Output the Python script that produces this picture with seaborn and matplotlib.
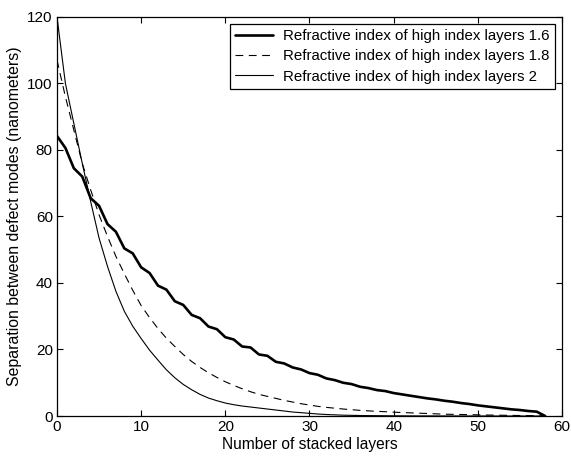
import numpy as np
import pandas as pd
import matplotlib
matplotlib.use("Agg")
import matplotlib.pyplot as plt
import seaborn as sns

# ---- data ----
layers_a = list(range(0, 59))
n16 = [84.2, 80.6, 74.5, 72.0, 65.5, 63.2, 57.7, 55.4, 50.4, 48.9,
       44.7, 43.0, 39.2, 38.0, 34.5, 33.4, 30.4, 29.4, 26.9, 26.1,
       23.7, 23.0, 20.9, 20.6, 18.5, 18.1, 16.3, 15.8, 14.6, 14.0,
       12.9, 12.4, 11.3, 10.8, 10.0, 9.6, 8.8, 8.4, 7.8, 7.5,
       6.9, 6.5, 6.1, 5.7, 5.3, 5.0, 4.6, 4.3, 3.9, 3.6,
       3.2, 2.9, 2.6, 2.3, 2.0, 1.8, 1.5, 1.3, 0.0]

layers_b = list(range(0, 59))
n18 = [107.0, 96.0, 86.0, 76.0, 68.0, 60.5, 54.0, 48.0, 42.8, 37.8,
       33.2, 29.6, 26.3, 23.4, 20.9, 18.5, 16.4, 14.6, 13.0, 11.6,
       10.3, 9.2, 8.2, 7.3, 6.5, 5.9, 5.3, 4.7, 4.2, 3.7,
       3.3, 2.9, 2.6, 2.35, 2.1, 1.9, 1.7, 1.55, 1.4, 1.3,
       1.15, 1.05, 0.95, 0.85, 0.75, 0.65, 0.55, 0.5, 0.45, 0.4,
       0.35, 0.3, 0.26, 0.22, 0.18, 0.15, 0.12, 0.1, 0.0]

layers_c = list(range(0, 59))
n20 = [120.0, 100.0, 88.0, 76.0, 64.5, 53.5, 45.0, 37.5, 31.5, 27.0,
       23.3, 19.8, 16.8, 13.9, 11.5, 9.5, 7.9, 6.5, 5.4, 4.6,
       3.9, 3.4, 3.0, 2.7, 2.4, 2.1, 1.8, 1.5, 1.2, 1.0,
       0.8, 0.6, 0.45, 0.35, 0.25, 0.2, 0.15, 0.12, 0.1, 0.08,
       0.06, 0.05, 0.04, 0.03, 0.03, 0.02, 0.02, 0.02, 0.01, 0.01,
       0.01, 0.01, 0.0, 0.0, 0.0, 0.0, 0.0, 0.0, 0.0]

labels = ["Refractive index of high index layers 1.6",
          "Refractive index of high index layers 1.8",
          "Refractive index of high index layers 2"]
x_ticks = [0, 10, 20, 30, 40, 50, 60]
y_ticks = [0, 20, 40, 60, 80, 100, 120]

sns.set_style("ticks")
plt.rcParams['font.family'] = ['Liberation Sans', 'DejaVu Sans']
plt.rcParams['font.size'] = 11
plt.rcParams['text.color'] = 'black'
plt.rcParams['axes.labelcolor'] = 'black'

fig = plt.figure(figsize=(5.71, 4.57), dpi=100)
ax = fig.add_axes([0.0998, 0.0897, 0.9842 - 0.0998, 0.963 - 0.0897])

sns.lineplot(x=layers_a, y=n16, ax=ax, color="black", linewidth=1.9,
             label=labels[0])
sns.lineplot(x=layers_b, y=n18, ax=ax, color="black", linewidth=0.8,
             label=labels[1], dashes=False)
ax.lines[-1].set_linestyle((0, (7, 5)))
sns.lineplot(x=layers_c, y=n20, ax=ax, color="black", linewidth=0.8,
             label=labels[2])

ax.set_xlim(0, 60)
ax.set_ylim(0, 120)
ax.set_xticks(x_ticks)
ax.set_yticks(y_ticks)
ax.tick_params(direction="in", top=True, right=True, length=4, width=0.8,
               labelsize=11, colors="black", pad=3)
for s in ax.spines.values():
    s.set_visible(True)
    s.set_linewidth(0.9)
    s.set_color("black")

ax.set_xlabel("Number of stacked layers", fontsize=11.2, labelpad=2)
ax.set_ylabel("Separation between defect modes (nanometers)", fontsize=11.4, labelpad=4)

leg = ax.legend(loc="upper right", frameon=True, fancybox=False,
                edgecolor="black", framealpha=1, handlelength=2.5,
                borderaxespad=0.45, labelspacing=0.42, fontsize=10.8,
                borderpad=0.35, handletextpad=0.7)
leg.get_frame().set_linewidth(0.9)
for t in leg.get_texts():
    t.set_color("black")

fig.savefig("out.png", dpi=100)
